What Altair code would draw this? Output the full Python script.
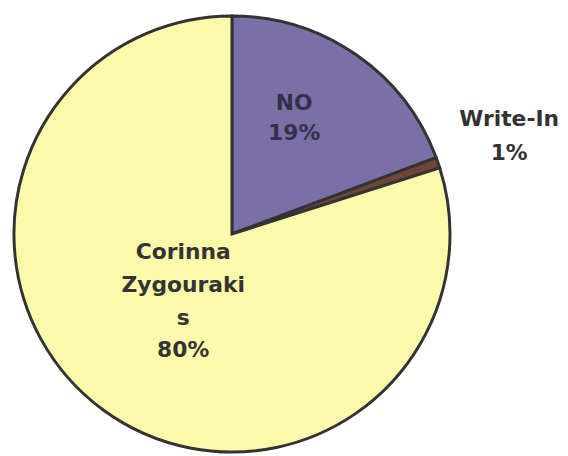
import altair as alt
import pandas as pd

categories = ["NO", "Write-In", "Corinna Zygourakis"]
values = [19.3, 0.8, 79.9]
labels = ["NO\n19%", "Write-In\n1%", "Corinna\nZygouraki\ns\n80%"]
colors = ["#7a6fa6", "#6e4638", "#fafaaa"]
order = [0, 1, 2]

df = pd.DataFrame({"category": categories, "value": values, "label": labels, "order": order})

color = alt.Color("category:N", scale=alt.Scale(domain=categories, range=colors), legend=None)

pie = alt.Chart(df).mark_arc(radius=220, stroke="#333333", strokeWidth=3).encode(
    theta=alt.Theta("value:Q", stack=True), color=color, order=alt.Order("order:Q")
)


def label_layer(cat, r, dx, dy, lh, fill):
    return alt.Chart(df).transform_window(
        cum="sum(value)", sort=[alt.SortField("order")]
    ).transform_calculate(
        mid="datum.cum - datum.value / 2"
    ).transform_filter(
        alt.datum.category == cat
    ).mark_text(
        radius=r, dx=dx, dy=dy, font="DejaVu Sans", fontWeight="bold", fontSize=22,
        lineBreak="\n", lineHeight=lh, align="center", baseline="middle", color=fill
    ).encode(
        theta=alt.Theta("mid:Q", stack=None, scale=alt.Scale(domain=[0, 100])),
        text="label:N",
    )


no_t = label_layer("NO", 133, -13, -23, 30, "#34304a")
wi_t = label_layer("Write-In", 296, 0, -19, 34, "#333333")
co_t = label_layer("Corinna Zygourakis", 80, -2, -46, 33, "#333333")

chart = alt.layer(pie, no_t, wi_t, co_t).resolve_scale(theta="independent").properties(
    width=436, height=442, padding={"left": 0, "top": 0, "right": 0, "bottom": 0}
).configure_view(strokeWidth=0)

chart.save("out.html", embed_options={"renderer": "svg", "actions": False})
